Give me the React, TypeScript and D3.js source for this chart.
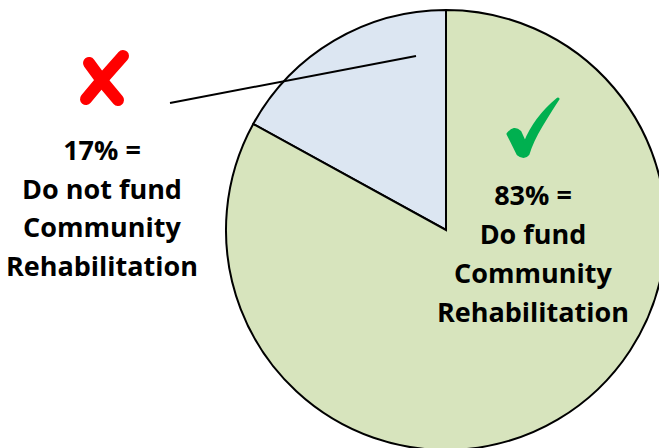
import React from "react";
import * as d3 from "d3";

const categories = ["Do not fund Community Rehabilitation", "Do fund Community Rehabilitation"];
const values = [17, 83];
const sliceColors = ["#DCE6F2", "#D7E4BD"];
const leftLabel = ["17% =", "Do not fund", "Community", "Rehabilitation"];
const rightLabel = ["83% =", "Do fund", "Community", "Rehabilitation"];

export default function App() {
  const W = 659, H = 448;
  const cx = 446, cy = 230, r = 220;
  const pie = d3.pie<number>().sort(null).startAngle(0).endAngle(-2 * Math.PI)(values);
  const arc = d3.arc<d3.PieArcDatum<number>>().innerRadius(0).outerRadius(r);
  const font = "'Open Sans', Lato, sans-serif";
  return (
    <svg width={W} height={H} style={{ position: "absolute", left: 0, top: 0, background: "#fff" }}>
      <g transform={`translate(${cx},${cy})`}>
        {pie.map((d, i) => (
          <path key={categories[i]} d={arc(d) || ""} fill={sliceColors[i]} stroke="#000" strokeWidth={2} />
        ))}
      </g>
      <line x1={170} y1={103} x2={416} y2={56} stroke="#000" strokeWidth={2} />
      {/* red X */}
      <g stroke="#FF0000" strokeWidth={12} strokeLinecap="round" fill="none">
        <path d="M89,63 Q102,82 118,100" />
        <path d="M123,56 Q103,78 86,99" />
      </g>
      {/* green check */}
      <path
        d="M508,134 Q514,126 520,132 L525,143 Q535,118 558,99 Q552,108 541,126 Q532,141 528,154 Q524,159 518,154 Z"
        fill="#00B050"
        stroke="#00B050"
        strokeWidth={3}
        strokeLinejoin="round"
      />
      <g fontFamily={font} fontWeight="bold" fontSize={27} fill="#000" textAnchor="middle">
        {leftLabel.map((t, i) => (
          <text key={"l" + i} x={102} y={160 + i * 38.5}>{t}</text>
        ))}
        {rightLabel.map((t, i) => (
          <text key={"r" + i} x={533} y={205 + i * 39}>{t}</text>
        ))}
      </g>
    </svg>
  );
}
